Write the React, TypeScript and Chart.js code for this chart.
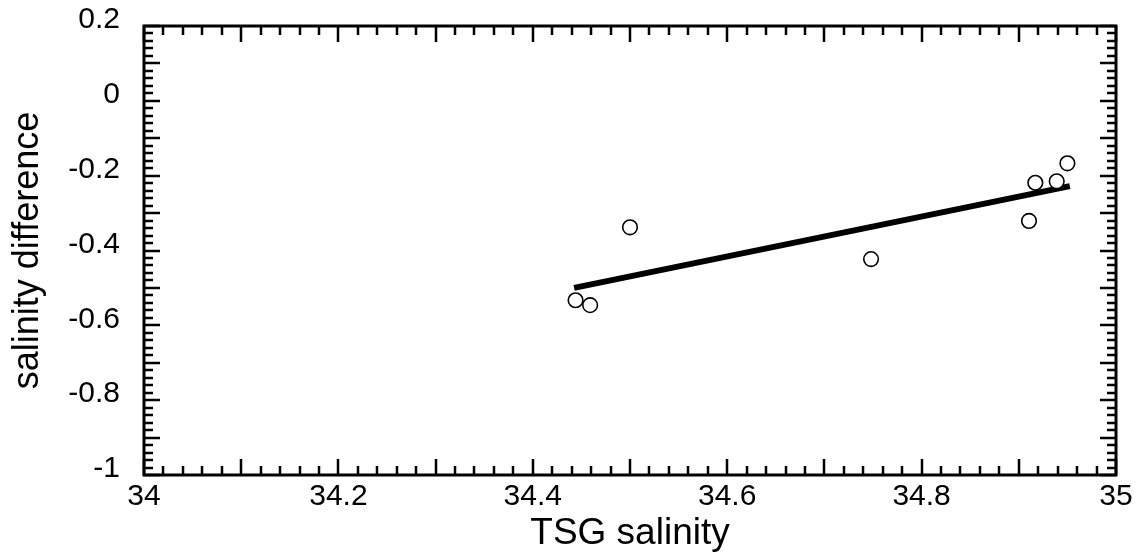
import React, { useEffect, useRef } from "react";
import { Chart, registerables } from "chart.js";

Chart.register(...registerables);

// Observed points (TSG salinity vs salinity difference)
const tsgSalinity = [34.444, 34.459, 34.5, 34.748, 34.9105, 34.917, 34.939, 34.95];
const salinityDiff = [-0.533, -0.546, -0.338, -0.423, -0.321, -0.219, -0.215, -0.167];

// Fitted line end points
const fitX = [34.4425, 34.9525];
const fitY = [-0.5, -0.228];

// Axis tick values and labels
const xTickValues = [34, 34.2, 34.4, 34.6, 34.8, 35];
const xTickLabels = ["34", "34.2", "34.4", "34.6", "34.8", "35"];
const yTickValues = [0.2, 0, -0.2, -0.4, -0.6, -0.8, -1];
const yTickLabels = ["0.2", "0", "-0.2", "-0.4", "-0.6", "-0.8", "-1"];

const FONT = '"Liberation Sans", Arial, Helvetica, sans-serif';

const frameTicks = {
  id: "frameTicks",
  afterDatasetsDraw(chart: any) {
    const { ctx, chartArea } = chart;
    const { left, right, top, bottom } = chartArea;
    const xs = chart.scales.x;
    const ys = chart.scales.y;
    ctx.save();
    ctx.strokeStyle = "#000";
    ctx.lineCap = "butt";
    ctx.lineWidth = 2.5;
    const MAJ = 16;
    const MIN = 9;
    // x ticks (minor every 0.02, major every 0.1)
    for (let i = 0; i <= 50; i++) {
      const v = 34 + i * 0.02;
      const px = Math.round(xs.getPixelForValue(v));
      const len = i % 5 === 0 ? MAJ : MIN;
      ctx.beginPath();
      ctx.moveTo(px, bottom);
      ctx.lineTo(px, bottom - len);
      ctx.moveTo(px, top);
      ctx.lineTo(px, top + len);
      ctx.stroke();
    }
    // y ticks (minor every 0.02, major every 0.1)
    for (let i = 0; i <= 60; i++) {
      const v = -1 + i * 0.02;
      const py = Math.round(ys.getPixelForValue(v));
      const len = i % 5 === 0 ? MAJ : MIN;
      ctx.beginPath();
      ctx.moveTo(left, py);
      ctx.lineTo(left + len, py);
      ctx.moveTo(right, py);
      ctx.lineTo(right - len, py);
      ctx.stroke();
    }
    ctx.lineWidth = 3;
    ctx.strokeRect(left, top, right - left, bottom - top);
    ctx.restore();
  },
};

export default function App() {
  const ref = useRef<HTMLCanvasElement | null>(null);

  useEffect(() => {
    if (!ref.current) return;
    const chart = new Chart(ref.current, {
      type: "scatter",
      data: {
        datasets: [
          {
            type: "line",
            label: "fit",
            data: fitX.map((x, i) => ({ x, y: fitY[i] })),
            borderColor: "#000",
            borderWidth: 6,
            pointRadius: 0,
            fill: false,
            order: 2,
          } as any,
          {
            label: "data",
            data: tsgSalinity.map((x, i) => ({ x, y: salinityDiff[i] })),
            pointRadius: 7.3,
            pointBorderWidth: 1.6,
            pointBackgroundColor: "#fff",
            pointBorderColor: "#000",
            order: 1,
          },
        ],
      },
      options: {
        responsive: false,
        animation: false,
        layout: { padding: { top: 26, right: 32, left: 0, bottom: 0 } },
        plugins: {
          legend: { display: false },
          tooltip: { enabled: false },
        },
        scales: {
          x: {
            type: "linear",
            min: 34,
            max: 35,
            grid: { display: false, drawTicks: false },
            border: { display: false },
            afterBuildTicks: (scale: any) => {
              scale.ticks = xTickValues.map((value) => ({ value }));
            },
            afterFit: (scale: any) => {
              scale.height = 84;
              scale.paddingLeft = 0;
              scale.paddingRight = 0;
            },
            ticks: {
              autoSkip: false,
              maxRotation: 0,
              padding: 4,
              color: "#000",
              font: { family: FONT, size: 30 },
              callback: (_v: any, i: number) => xTickLabels[i],
            },
            title: {
              display: true,
              text: "TSG salinity",
              color: "#000",
              font: { family: FONT, size: 37 },
              padding: { top: 0, bottom: 3 },
            },
          },
          y: {
            type: "linear",
            min: -1,
            max: 0.2,
            grid: { display: false, drawTicks: false },
            border: { display: false },
            afterBuildTicks: (scale: any) => {
              scale.ticks = yTickValues.map((value) => ({ value }));
            },
            afterFit: (scale: any) => {
              scale.width = 144;
              scale.paddingTop = 0;
              scale.paddingBottom = 0;
            },
            ticks: {
              autoSkip: false,
              padding: 24,
              labelOffset: -6,
              color: "#000",
              font: { family: FONT, size: 30 },
              callback: (_v: any, i: number) => yTickLabels[i],
            },
            title: {
              display: true,
              text: "salinity difference",
              color: "#000",
              font: { family: FONT, size: 36 },
              padding: { top: 6, bottom: 0 },
            },
          },
        },
      },
      plugins: [frameTicks],
    });
    return () => chart.destroy();
  }, []);

  return (
    <div style={{ position: "absolute", left: 0, top: 0, width: 1148, height: 559, background: "#fff" }}>
      <canvas ref={ref} width={1148} height={559} style={{ display: "block" }} />
    </div>
  );
}
